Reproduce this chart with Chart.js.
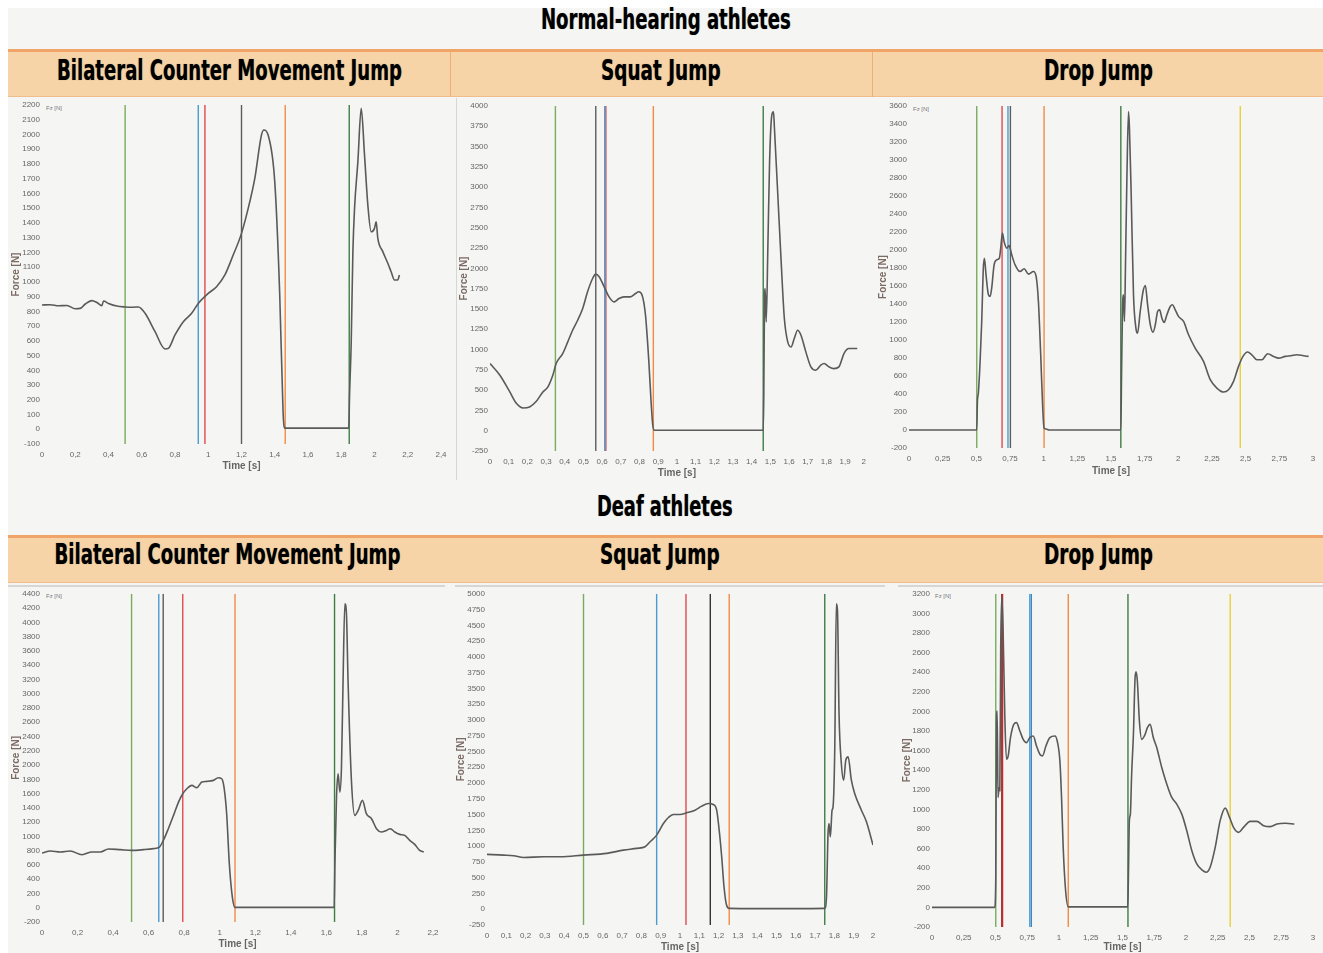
<!DOCTYPE html>
<html>
<head>
<meta charset="utf-8">
<script src="https://cdn.jsdelivr.net/npm/chart.js@4.4.1/dist/chart.umd.min.js"></script>
<style>
  body { margin: 0; width: 1323px; height: 953px; background: #fff; position: relative; overflow: hidden; font-family: "Open Sans", sans-serif; }
  #bg { position: absolute; left: 8px; top: 8px; width: 1315px; height: 945px; background: #f5f5f4; }
  .band { position: absolute; left: 8px; width: 1315px; height: 44px; background: #f6d4a8; border-top: 3px solid #f0a468; border-bottom: 1px solid #f2bd8c; }
  .div { position: absolute; width: 1px; background: #efae76; }
  .sep { position: absolute; background: #d6d6d6; }
  .title { position: absolute; font-family: "Liberation Sans Narrow", "Arial Narrow", "DejaVu Sans Condensed", sans-serif; font-weight: bold; font-size: 28px; line-height: 28px; color: #000; white-space: nowrap; transform-origin: center center; text-shadow: 0 0 1px rgba(0,0,0,0.5); }
  canvas { position: absolute; }
  .fz { position: absolute; font-family: "Liberation Sans Narrow", sans-serif; font-size: 6px; color: #777; line-height: 6px; }
</style>
</head>
<body>
<div id="bg"></div>
<div class="band" style="top:49px"></div>
<div class="div" style="left:450px;top:52px;height:45px"></div>
<div class="div" style="left:872px;top:52px;height:45px"></div>
<div class="band" style="top:535px"></div>
<div class="sep" style="left:456px;top:98px;width:1px;height:382px"></div>
<div class="sep" style="left:8px;top:585px;width:437px;height:2px"></div>
<div class="sep" style="left:455px;top:585px;width:430px;height:2px"></div>
<div class="sep" style="left:898px;top:585px;width:425px;height:2px"></div>

<div class="title" data-x="666" data-y="20" data-w="250">Normal-hearing athletes</div>
<div class="title" data-x="229" data-y="71" data-w="345">Bilateral Counter Movement Jump</div>
<div class="title" data-x="661" data-y="71" data-w="120">Squat Jump</div>
<div class="title" data-x="1098" data-y="71" data-w="109">Drop Jump</div>
<div class="title" data-x="665" data-y="507" data-w="136">Deaf athletes</div>
<div class="title" data-x="227" data-y="555" data-w="346">Bilateral Counter Movement Jump</div>
<div class="title" data-x="660" data-y="555" data-w="120">Squat Jump</div>
<div class="title" data-x="1098" data-y="555" data-w="109">Drop Jump</div>

<div class="fz" style="left:46px;top:105px">Fz [N]</div>
<div class="fz" style="left:913px;top:106px">Fz [N]</div>
<div class="fz" style="left:46px;top:593px">Fz [N]</div>
<div class="fz" style="left:935px;top:593px">Fz [N]</div>

<script>
// event marker colours
const GREEN = '#7aab5f', BLUE = '#4a9bd2', RED = '#e04a4f', GRAY = '#5c5c5c',
      ORANGE = '#f28a45', DKGREEN = '#3f7d45', YELLOW = '#e9d13c', DKRED = '#9c1a1a';

// Normal-hearing, bilateral counter movement jump
const cmjHearingTime = [0, 0.05, 0.1, 0.15, 0.2, 0.23, 0.26, 0.3, 0.33, 0.36, 0.37, 0.4, 0.45, 0.5, 0.55, 0.58, 0.62, 0.68, 0.74, 0.76, 0.8, 0.85, 0.9, 0.94, 1.0, 1.05, 1.1, 1.15, 1.2, 1.25, 1.28, 1.32, 1.335, 1.36, 1.4, 1.43, 1.45, 1.455, 1.46, 1.47, 1.55, 1.65, 1.75, 1.845, 1.85, 1.86, 1.87, 1.88, 1.9, 1.92, 1.94, 1.96, 1.98, 2.0, 2.01, 2.02, 2.05, 2.08, 2.1, 2.12, 2.14, 2.15];
const cmjHearingForce = [843, 845, 838, 840, 818, 820, 850, 873, 860, 839, 870, 854, 836, 830, 828, 830, 787, 662, 545, 549, 640, 730, 787, 854, 922, 967, 1047, 1182, 1329, 1544, 1702, 1996, 2030, 1996, 1680, 911, 119, 29, 8, 8, 8, 8, 8, 8, 233, 594, 1205, 1499, 1816, 2177, 1860, 1521, 1340, 1363, 1408, 1295, 1205, 1126, 1069, 1013, 1013, 1047];
const cmjHearingEvents = [0.5, 0.94, 0.98, 1.2, 1.463, 1.848];
const cmjHearingEventColors = [GREEN, BLUE, RED, GRAY, ORANGE, DKGREEN];

// Normal-hearing, squat jump
const sjHearingTime = [0, 0.053, 0.106, 0.142, 0.177, 0.212, 0.248, 0.283, 0.31, 0.336, 0.354, 0.389, 0.416, 0.442, 0.469, 0.496, 0.522, 0.549, 0.566, 0.584, 0.611, 0.637, 0.664, 0.69, 0.717, 0.752, 0.779, 0.796, 0.814, 0.832, 0.85, 0.862, 0.871, 0.88, 1.1, 1.3, 1.462, 1.465, 1.469, 1.472, 1.478, 1.487, 1.496, 1.508, 1.517, 1.522, 1.54, 1.558, 1.575, 1.593, 1.611, 1.628, 1.646, 1.664, 1.69, 1.717, 1.743, 1.77, 1.788, 1.814, 1.84, 1.867, 1.894, 1.92, 1.965];
const sjHearingForce = [827, 683, 478, 334, 280, 293, 363, 478, 540, 683, 827, 950, 1094, 1238, 1361, 1505, 1711, 1875, 1929, 1896, 1772, 1649, 1587, 1629, 1649, 1649, 1690, 1711, 1670, 1423, 848, 354, 67, 5, 5, 5, 5, 437, 1670, 1750, 1340, 2286, 3314, 3889, 3930, 3725, 2903, 2080, 1382, 1094, 1032, 1135, 1238, 1176, 971, 786, 745, 807, 827, 786, 765, 786, 950, 1012, 1012];
const sjHearingEvents = [0.35, 0.566, 0.614, 0.62, 0.874, 1.462];
const sjHearingEventColors = [GREEN, GRAY, BLUE, RED, ORANGE, DKGREEN];

// Normal-hearing, drop jump
const djHearingTime = [0, 0.503, 0.508, 0.515, 0.528, 0.54, 0.552, 0.56, 0.572, 0.59, 0.602, 0.614, 0.632, 0.652, 0.671, 0.681, 0.694, 0.706, 0.726, 0.743, 0.763, 0.788, 0.825, 0.855, 0.887, 0.924, 0.944, 0.961, 0.978, 0.993, 1.003, 1.018, 1.04, 1.573, 1.578, 1.585, 1.593, 1.6, 1.608, 1.618, 1.63, 1.637, 1.65, 1.667, 1.685, 1.697, 1.717, 1.738, 1.755, 1.772, 1.792, 1.812, 1.829, 1.846, 1.861, 1.878, 1.895, 1.915, 1.94, 1.957, 1.977, 2.001, 2.039, 2.076, 2.125, 2.187, 2.237, 2.286, 2.336, 2.373, 2.41, 2.447, 2.48, 2.514, 2.546, 2.583, 2.621, 2.663, 2.707, 2.745, 2.794, 2.836, 2.881, 2.93, 2.967];
const djHearingForce = [0, 0, 318, 411, 762, 1206, 1798, 1909, 1724, 1502, 1484, 1576, 1835, 1891, 1909, 2020, 2187, 2094, 2020, 2050, 1946, 1835, 1761, 1791, 1732, 1761, 1706, 1428, 836, 244, 22, 11, 0, 0, 577, 1317, 1502, 1206, 1872, 2797, 3537, 3352, 2612, 1502, 1132, 1076, 1317, 1539, 1606, 1391, 1169, 1088, 1169, 1317, 1335, 1243, 1195, 1280, 1372, 1391, 1335, 1262, 1206, 1058, 910, 762, 559, 466, 422, 448, 540, 707, 818, 866, 836, 781, 781, 847, 818, 799, 818, 825, 836, 825, 818];
const djHearingEvents = [0.503, 0.691, 0.735, 0.753, 1.003, 1.573, 2.46];
const djHearingEventColors = [GREEN, RED, BLUE, GRAY, ORANGE, DKGREEN, YELLOW];

// Deaf, bilateral counter movement jump
const cmjDeafTime = [0, 0.047, 0.103, 0.159, 0.225, 0.281, 0.328, 0.374, 0.44, 0.506, 0.571, 0.627, 0.661, 0.683, 0.711, 0.74, 0.768, 0.792, 0.815, 0.843, 0.871, 0.899, 0.927, 0.964, 0.992, 1.011, 1.024, 1.039, 1.054, 1.071, 1.086, 1.3, 1.5, 1.644, 1.648, 1.657, 1.666, 1.676, 1.685, 1.694, 1.704, 1.713, 1.722, 1.741, 1.76, 1.779, 1.803, 1.825, 1.854, 1.882, 1.91, 1.938, 1.96, 1.985, 2.013, 2.041, 2.069, 2.097, 2.125, 2.148];
const cmjDeafForce = [767, 795, 781, 795, 743, 781, 781, 823, 814, 804, 814, 828, 851, 944, 1108, 1294, 1481, 1598, 1668, 1715, 1682, 1761, 1771, 1785, 1822, 1808, 1691, 1318, 617, 150, 5, 5, 5, 5, 617, 1551, 1878, 1621, 1971, 3186, 4260, 4120, 3186, 1785, 1294, 1364, 1505, 1318, 1248, 1108, 1061, 1084, 1108, 1061, 1028, 1014, 944, 888, 804, 781];
const cmjDeafEvents = [0.504, 0.657, 0.682, 0.792, 1.086, 1.646];
const cmjDeafEventColors = [GREEN, BLUE, GRAY, RED, ORANGE, DKGREEN];

// Deaf, squat jump
const sjDeafTime = [0, 0.086, 0.138, 0.19, 0.293, 0.379, 0.5, 0.621, 0.707, 0.776, 0.819, 0.845, 0.879, 0.914, 0.94, 0.966, 1.0, 1.034, 1.078, 1.112, 1.147, 1.172, 1.19, 1.203, 1.216, 1.228, 1.241, 1.255, 1.4, 1.6, 1.75, 1.759, 1.767, 1.772, 1.779, 1.788, 1.793, 1.802, 1.81, 1.816, 1.824, 1.836, 1.848, 1.859, 1.871, 1.888, 1.905, 1.94, 1.966, 2.0];
const sjDeafForce = [869, 858, 848, 821, 832, 832, 858, 885, 937, 964, 990, 1069, 1175, 1359, 1454, 1502, 1502, 1528, 1570, 1634, 1676, 1660, 1570, 1254, 832, 357, 67, 14, 10, 10, 14, 199, 1201, 1360, 1148, 1570, 1623, 2573, 4842, 4736, 3101, 2309, 2045, 2362, 2415, 2045, 1834, 1570, 1386, 1017];
const sjDeafEvents = [0.5, 0.879, 1.031, 1.157, 1.255, 1.75];
const sjDeafEventColors = [GREEN, BLUE, RED, '#333333', ORANGE, DKGREEN];

// Deaf, drop jump
const djDeafTime = [0, 0.494, 0.502, 0.507, 0.513, 0.52, 0.528, 0.534, 0.541, 0.55, 0.56, 0.573, 0.586, 0.6, 0.618, 0.644, 0.665, 0.692, 0.718, 0.744, 0.77, 0.797, 0.823, 0.849, 0.87, 0.897, 0.928, 0.968, 0.986, 1.007, 1.02, 1.033, 1.052, 1.073, 1.3, 1.541, 1.546, 1.554, 1.562, 1.572, 1.586, 1.599, 1.607, 1.617, 1.633, 1.651, 1.678, 1.696, 1.717, 1.743, 1.77, 1.809, 1.849, 1.888, 1.927, 1.967, 2.006, 2.046, 2.085, 2.125, 2.159, 2.19, 2.23, 2.269, 2.309, 2.343, 2.374, 2.414, 2.453, 2.506, 2.558, 2.611, 2.664, 2.716, 2.782, 2.853];
const djDeafForce = [0, 0, 274, 1868, 2003, 1122, 1224, 1190, 2647, 3173, 2817, 1969, 1512, 1546, 1732, 1868, 1885, 1800, 1715, 1681, 1732, 1749, 1647, 1563, 1546, 1647, 1732, 1749, 1698, 1495, 1122, 613, 173, 5, 5, 5, 274, 885, 952, 1359, 1766, 2342, 2403, 2308, 1902, 1715, 1766, 1834, 1868, 1732, 1630, 1427, 1257, 1122, 1054, 952, 783, 579, 444, 383, 359, 410, 613, 885, 1013, 918, 817, 766, 817, 878, 878, 834, 824, 851, 858, 851];
const djDeafEvents = [0.502, 0.55, 0.556, 0.77, 0.782, 1.073, 1.543, 2.348];
const djDeafEventColors = [GREEN, DKRED, RED, BLUE, '#3f86bd', ORANGE, DKGREEN, YELLOW];

// axis ranges: [min, max, step]
const cmjHearingX = [0, 2.4, 0.2],  cmjHearingY = [-100, 2200, 100];
const sjHearingX  = [0, 2, 0.1],    sjHearingY  = [-250, 4000, 250];
const djHearingX  = [0, 3, 0.25],   djHearingY  = [-200, 3600, 200];
const cmjDeafX    = [0, 2.2, 0.2],  cmjDeafY    = [-200, 4400, 200];
const sjDeafX     = [0, 2, 0.1],    sjDeafY     = [-250, 5000, 250];
const djDeafX     = [0, 3, 0.25],   djDeafY     = [-200, 3200, 200];

// place the headings
document.querySelectorAll('.title').forEach(el => {
  const w = el.offsetWidth, h = el.offsetHeight;
  el.style.left = (+el.dataset.x - w / 2) + 'px';
  el.style.top = (+el.dataset.y - h / 2) + 'px';
  el.style.transform = 'scaleX(' + (+el.dataset.w / w) + ')';
});

const fmt = v => (Math.round(v * 100) / 100).toString().replace('.', ',');
const NARROW = '"Liberation Sans Narrow", "Arial Narrow", sans-serif';

function makeChart(p) {
  const c = document.createElement('canvas');
  c.width = p.box[2]; c.height = p.box[3];
  c.style.left = p.box[0] + 'px'; c.style.top = p.box[1] + 'px';
  document.body.appendChild(c);

  const datasets = [{
    data: p.time.map((t, i) => ({ x: t, y: p.force[i] })),
    showLine: true, borderColor: '#5a5a5a', borderWidth: 1.6,
    pointRadius: 0, cubicInterpolationMode: 'monotone'
  }];
  p.events.forEach((t, i) => datasets.push({
    data: [{ x: t, y: p.y[0] }, { x: t, y: p.y[1] }],
    showLine: true, borderColor: p.colors[i], borderWidth: 1.4, pointRadius: 0
  }));

  new Chart(c, {
    type: 'scatter',
    data: { datasets },
    options: {
      responsive: false, animation: false, devicePixelRatio: 1,
      layout: { padding: { top: p.pad[0], right: p.pad[1], left: 0, bottom: 0 } },
      plugins: { legend: { display: false }, tooltip: { enabled: false } },
      scales: {
        x: {
          type: 'linear', min: p.x[0], max: p.x[1],
          grid: { display: false, drawTicks: false }, border: { display: false },
          ticks: { stepSize: p.x[2], autoSkip: false, maxRotation: 0, padding: 6, color: '#666',
                   font: { size: 8, family: NARROW }, callback: fmt },
          title: { display: true, text: 'Time [s]', color: '#666',
                   font: { size: 10, weight: 'bold', family: NARROW }, padding: { top: 0, bottom: p.tpad[1] } },
          afterFit: s => { s.height = p.axis[1]; }
        },
        y: {
          type: 'linear', min: p.y[0], max: p.y[1],
          grid: { display: false, drawTicks: false }, border: { display: false },
          ticks: { stepSize: p.y[2], autoSkip: false, padding: 2, color: '#666',
                   font: { size: 8, family: NARROW }, callback: v => String(v) },
          title: { display: true, text: 'Force [N]', color: '#7a6a62',
                   font: { size: 10, weight: 'bold', family: NARROW }, padding: { top: p.tpad[0], bottom: 0 } },
          afterFit: s => { s.width = p.axis[0]; }
        }
      }
    }
  });
}

makeChart({ box: [8, 98, 447, 382], axis: [34, 36], pad: [7, 14], tpad: [2, 8],
  time: cmjHearingTime, force: cmjHearingForce, events: cmjHearingEvents, colors: cmjHearingEventColors,
  x: cmjHearingX, y: cmjHearingY });
makeChart({ box: [457, 98, 415, 382], axis: [33, 29], pad: [8, 5], tpad: [1, 1],
  time: sjHearingTime, force: sjHearingForce, events: sjHearingEvents, colors: sjHearingEventColors,
  x: sjHearingX, y: sjHearingY });
makeChart({ box: [872, 98, 451, 382], axis: [37, 32], pad: [8, 10], tpad: [5, 3],
  time: djHearingTime, force: djHearingForce, events: djHearingEvents, colors: djHearingEventColors,
  x: djHearingX, y: djHearingY });
makeChart({ box: [8, 587, 437, 366], axis: [34, 31], pad: [6, 12], tpad: [2, 3],
  time: cmjDeafTime, force: cmjDeafForce, events: cmjDeafEvents, colors: cmjDeafEventColors,
  x: cmjDeafX, y: cmjDeafY });
makeChart({ box: [455, 587, 430, 366], axis: [32, 28], pad: [6, 12], tpad: [0, 0],
  time: sjDeafTime, force: sjDeafForce, events: sjDeafEvents, colors: sjDeafEventColors,
  x: sjDeafX, y: sjDeafY });
makeChart({ box: [895, 587, 428, 366], axis: [37, 26], pad: [5, 10], tpad: [6, 0],
  time: djDeafTime, force: djDeafForce, events: djDeafEvents, colors: djDeafEventColors,
  x: djDeafX, y: djDeafY });
</script>
</body>
</html>
